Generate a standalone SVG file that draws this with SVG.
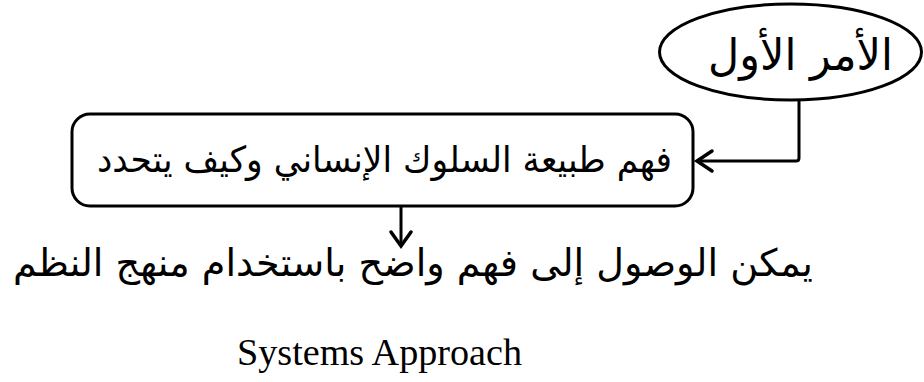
<svg xmlns="http://www.w3.org/2000/svg" width="924" height="382" viewBox="0 0 924 382">
  <style>
    .shape { fill: #ffffff; stroke: #000000; stroke-width: 3; }
    .conn { fill: none; stroke: #000000; stroke-width: 3; stroke-linejoin: round; }
    .head { fill: none; stroke: #000000; stroke-width: 3.5; stroke-linecap: round; stroke-linejoin: miter; }
    .ar { font-family: "DejaVu Sans", "Noto Sans", sans-serif; fill: #000000; direction: rtl; unicode-bidi: embed; }
    .en { font-family: "Liberation Serif", "DejaVu Serif", serif; fill: #000000; }
  </style>
  <rect width="924" height="382" fill="#ffffff"/>
  <g id="connectors">
    <path class="conn" d="M799,100 V158 Q799,161 796,161 H698"/>
    <path class="head" d="M712,151 L697,161 L712,171"/>
    <path class="conn" d="M401,206 V245"/>
    <path class="head" d="M391,232 L401,246 L411,232"/>
  </g>
  <g id="node-first">
    <ellipse class="shape" cx="790.5" cy="52" rx="131" ry="48"/>
    <text class="ar" x="893" y="70" font-size="44" textLength="185" lengthAdjust="spacingAndGlyphs">الأمر الأول</text>
  </g>
  <g id="node-understand">
    <rect class="shape" x="72" y="114" width="621" height="92" rx="18" ry="18"/>
    <text class="ar" x="672" y="172" font-size="36" textLength="575" lengthAdjust="spacingAndGlyphs">فهم طبيعة السلوك الإنساني وكيف يتحدد</text>
  </g>
  <g id="node-result">
    <text class="ar" x="813" y="276" font-size="38" textLength="800" lengthAdjust="spacingAndGlyphs">يمكن الوصول إلى فهم واضح باستخدام منهج النظم</text>
    <text class="en" x="237" y="365" font-size="38" textLength="285" lengthAdjust="spacingAndGlyphs">Systems Approach</text>
  </g>
</svg>
